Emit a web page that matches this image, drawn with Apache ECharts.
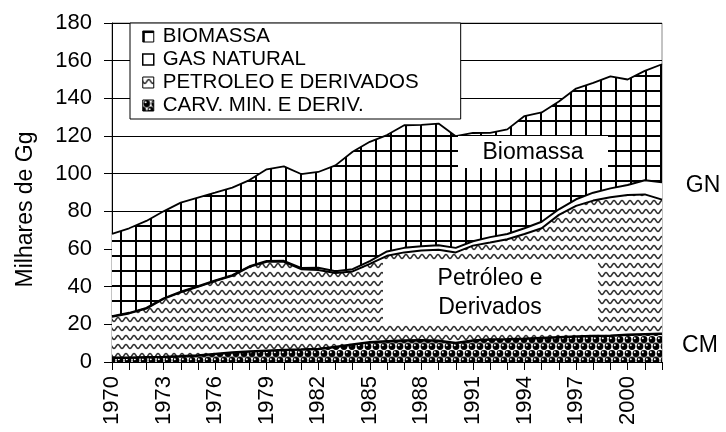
<!DOCTYPE html>
<html>
<head>
<meta charset="utf-8">
<script src="https://cdn.jsdelivr.net/npm/echarts@6/dist/echarts.min.js"></script>
<style>
  html, body { margin: 0; padding: 0; background: #fff; }
  #chart { width: 726px; height: 432px; }
</style>
</head>
<body>
<div id="chart"></div>
<script>
// anos
const years = []
for (let y = 1970; y <= 2002; y++) years.push(String(y))

// valores (milhares de Gg)
const carvao = [2.2, 2.3, 2.5, 2.7, 3.0, 3.5, 4.3, 5.0, 5.6, 6.0, 6.4, 6.6, 6.9, 8.0, 9.3, 10.5, 11.0,
  11.4, 11.5, 11.3, 10.1, 11.4, 11.9, 12.1, 12.4, 12.8, 13.2, 13.6, 13.8, 14.0, 14.5, 14.8, 15.0]
const petroleo = [21.8, 23.5, 25.9, 30.8, 34.0, 36.4, 38.7, 40.8, 44.9, 47.2, 46.8, 42.7, 41.9, 39.2, 38.8, 41.6, 45.4,
  46.8, 47.7, 48.3, 48.1, 50.4, 51.5, 53.1, 55.6, 58.2, 64.9, 69.3, 71.9, 73.5, 74.2, 74.2, 71.2]
const gasNatural = [0.3, 0.3, 0.3, 0.3, 0.3, 0.3, 0.3, 0.3, 0.3, 0.4, 0.5, 0.6, 1.2, 1.0, 1.2, 1.5, 2.3,
  2.4, 2.3, 2.4, 2.4, 2.3, 2.9, 2.8, 3.0, 3.5, 3.0, 3.5, 4.2, 4.7, 5.3, 7.5, 9.3]
const biomassa = [43.7, 44.9, 46.2, 46.2, 47.3, 47.1, 46.6, 46.5, 45.8, 48.7, 50.2, 49.9, 50.9, 56.2, 62.3, 63.3, 61.8,
  65.1, 64.4, 64.6, 59.3, 57.5, 55.4, 55.5, 59.6, 58.0, 57.2, 58.8, 58.3, 59.5, 56.0, 58.1, 62.6]

const legendNames = ['BIOMASSA', 'GAS NATURAL', 'PETROLEO E DERIVADOS', 'CARV. MIN. E DERIV.']
const FONT = 'Liberation Sans, Arial, sans-serif'
const FS_AXIS = 22
const FS_LEGEND = 20.5
const FS_NOTE = 23

// padroes de preenchimento
const makeCanvas = (w, h) => {
  const c = document.createElement('canvas')
  c.width = w
  c.height = h
  const ctx = c.getContext('2d')
  ctx.fillStyle = '#fff'
  ctx.fillRect(0, 0, w, h)
  return [c, ctx]
}

const gridPattern = () => {
  const [c, ctx] = makeCanvas(15, 15)
  ctx.fillStyle = '#000'
  ctx.fillRect(0, 0, 2, 15)
  ctx.fillRect(0, 0, 15, 2)
  return { image: c, repeat: 'repeat' }
}

const wavePattern = () => {
  const [c, ctx] = makeCanvas(8, 9)
  ctx.strokeStyle = '#333'
  ctx.lineWidth = 1.5
  ctx.beginPath()
  for (let x = -1; x <= 9; x += 0.5) {
    const y = 4.5 + 2 * Math.sin((2 * Math.PI * x) / 8)
    if (x === -1) ctx.moveTo(x, y)
    else ctx.lineTo(x, y)
  }
  ctx.stroke()
  return { image: c, repeat: 'repeat' }
}

const dotPattern = () => {
  const [c, ctx] = makeCanvas(16, 14)
  ctx.fillStyle = '#999'
  ctx.fillRect(0, 6, 16, 2)
  const dots = [[4, 3.5], [12, 3.5], [0, 10.5], [8, 10.5], [16, 10.5]]
  dots.forEach(([x, y]) => {
    ctx.fillStyle = '#000'
    ctx.beginPath()
    ctx.arc(x, y, 3.4, 0, Math.PI * 2)
    ctx.fill()
    ctx.fillStyle = '#fff'
    ctx.beginPath()
    ctx.arc(x - 1.2, y - 1.2, 1, 0, Math.PI * 2)
    ctx.fill()
  })
  return { image: c, repeat: 'repeat' }
}

const patBio = gridPattern()
const patPet = wavePattern()
const patCarv = dotPattern()

const makeSeries = (name, data, fill, lineWidth) => ({
  name,
  type: 'line',
  stack: 'total',
  data,
  symbol: 'none',
  showSymbol: false,
  lineStyle: { color: '#000', width: lineWidth },
  itemStyle: { color: '#000' },
  areaStyle: { color: fill, opacity: 1 },
  emphasis: { disabled: true },
})

const noteText = (text, x, y) => ({
  type: 'text',
  x,
  y,
  z: 101,
  style: {
    text,
    font: FS_NOTE + 'px ' + FONT,
    lineHeight: 29,
    fill: '#000',
    align: 'center',
    verticalAlign: 'middle',
  },
})

const chart = echarts.init(document.getElementById('chart'))

const option = {
  animation: false,
  backgroundColor: '#fff',
  textStyle: { fontFamily: FONT },
  grid: {
    left: 112,
    right: 64,
    top: 23,
    bottom: 70,
    show: true,
    borderColor: '#888',
    borderWidth: 1,
    outerBoundsMode: 'none',
  },
  legend: {
    orient: 'vertical',
    left: 130,
    top: 23,
    padding: [3, 42, 3, 12],
    itemWidth: 11,
    itemHeight: 11,
    itemGap: 2,
    backgroundColor: '#fff',
    borderColor: '#000',
    borderWidth: 1,
    borderRadius: 0,
    textStyle: { fontSize: FS_LEGEND, color: '#000', fontFamily: FONT, padding: [0, 0, 0, 4] },
    data: [
      { name: legendNames[0], icon: 'rect', itemStyle: { color: patBio, borderColor: '#000', borderWidth: 1 } },
      { name: legendNames[1], icon: 'rect', itemStyle: { color: '#fff', borderColor: '#000', borderWidth: 1.5 } },
      { name: legendNames[2], icon: 'rect', itemStyle: { color: patPet, borderColor: '#000', borderWidth: 1 } },
      { name: legendNames[3], icon: 'rect', itemStyle: { color: patCarv, borderColor: '#000', borderWidth: 1 } },
    ],
  },
  xAxis: {
    type: 'category',
    data: years,
    boundaryGap: false,
    axisLine: { lineStyle: { color: '#000', width: 1 } },
    axisTick: { show: true, interval: 0, length: 8, lineStyle: { color: '#000' } },
    axisLabel: {
      interval: 2,
      rotate: 90,
      margin: 14,
      fontSize: FS_AXIS,
      color: '#000',
      fontFamily: FONT,
    },
    splitLine: { show: false },
  },
  yAxis: {
    type: 'value',
    min: 0,
    max: 180,
    interval: 20,
    name: 'Milhares de Gg',
    nameLocation: 'middle',
    nameGap: 75,
    nameTextStyle: { fontSize: 23, color: '#000', fontFamily: FONT, padding: [0, 34, 0, 0] },
    axisLine: { show: true, lineStyle: { color: '#000', width: 1 } },
    axisTick: { show: true, inside: false, length: 8, lineStyle: { color: '#000' } },
    axisLabel: { margin: 20, fontSize: FS_AXIS, color: '#000', fontFamily: FONT },
    splitLine: { show: true, lineStyle: { color: '#000', width: 1 } },
  },
  series: [
    makeSeries(legendNames[3], carvao, patCarv, 2.5),
    makeSeries(legendNames[2], petroleo, patPet, 2),
    makeSeries(legendNames[1], gasNatural, '#fff', 2),
    makeSeries(legendNames[0], biomassa, patBio, 1.8),
  ],
  graphic: [
    { type: 'rect', z: 100, shape: { x: 458, y: 136, width: 150, height: 32 }, style: { fill: '#fff' } },
    noteText('Biomassa', 533, 153),
    { type: 'rect', z: 100, shape: { x: 383, y: 261, width: 215, height: 62 }, style: { fill: '#fff' } },
    noteText('Petróleo e\nDerivados', 490, 293),
    noteText('GN', 703, 186),
    noteText('CM', 700, 346),
  ],
}

chart.setOption(option)
</script>
</body>
</html>
